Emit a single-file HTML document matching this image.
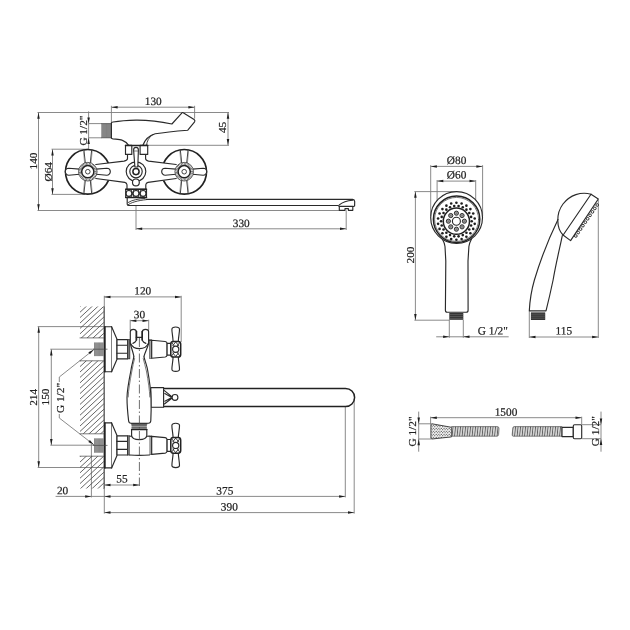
<!DOCTYPE html>
<html><head><meta charset="utf-8"><title>Drawing</title>
<style>
html,body{margin:0;padding:0;background:#fff;}
svg{display:block;filter:grayscale(1);}
.d{stroke:#7d7d7d;stroke-width:0.9;fill:none;}
.o{stroke:#2a2a2a;stroke-width:1.15;fill:none;stroke-linecap:round;stroke-linejoin:round;}
.ow{stroke:#2a2a2a;stroke-width:1.15;fill:#fff;stroke-linecap:round;stroke-linejoin:round;}
.k{stroke:#222;stroke-width:1.5;fill:none;stroke-linecap:round;stroke-linejoin:round;}
.kw{stroke:#222;stroke-width:1.5;fill:#fff;stroke-linejoin:round;}
.t{stroke:#444;stroke-width:0.7;fill:none;stroke-linecap:round;}
.m{stroke:#2e2e2e;stroke-width:0.9;fill:none;stroke-linecap:round;}
.tw{stroke:#444;stroke-width:0.7;fill:#fff;}
.w{fill:#fff;stroke:none;}
.g{fill:#8a8a8a;stroke:none;}
.a{fill:#1e1e1e;stroke:none;}
.h{stroke:#555;stroke-width:0.8;fill:none;}
.tx{font-family:"Liberation Serif",serif;font-size:11.3px;fill:#222;stroke:#222;stroke-width:0.22;}
</style></head><body>
<svg width="630" height="630" viewBox="0 0 630 630">
<rect x="0" y="0" width="630" height="630" fill="#fff"/>
<g id="top">
<line class="d" x1="37.50" y1="112.50" x2="229.00" y2="112.50"/>
<line class="d" x1="37.50" y1="210.50" x2="339.00" y2="210.50"/>
<line class="d" x1="38.50" y1="112.50" x2="38.50" y2="210.50"/>
<polygon class="a" points="38.50,112.50 37.25,118.70 39.75,118.70"/>
<polygon class="a" points="38.50,210.50 37.25,204.30 39.75,204.30"/>
<text class="tx" text-anchor="middle" transform="translate(36.70,161.00) rotate(-90)">140</text>
<line class="d" x1="88.60" y1="111.40" x2="88.60" y2="149.20"/>
<polygon class="a" points="88.60,123.60 87.35,117.40 89.85,117.40"/>
<polygon class="a" points="88.60,137.80 87.35,144.00 89.85,144.00"/>
<line class="d" x1="88.60" y1="123.60" x2="101.40" y2="123.60"/>
<line class="d" x1="88.60" y1="137.80" x2="101.40" y2="137.80"/>
<text class="tx" text-anchor="middle" transform="translate(87.30,130.60) rotate(-90)">G 1/2"</text>
<line class="d" x1="52.50" y1="149.20" x2="52.50" y2="194.40"/>
<polygon class="a" points="52.50,149.20 51.25,155.40 53.75,155.40"/>
<polygon class="a" points="52.50,194.40 51.25,188.20 53.75,188.20"/>
<line class="d" x1="51.50" y1="149.20" x2="88.00" y2="149.20"/>
<line class="d" x1="51.50" y1="194.40" x2="85.00" y2="194.40"/>
<text class="tx" text-anchor="middle" transform="translate(51.50,171.70) rotate(-90)">Ø64</text>
<line class="d" x1="111.40" y1="107.20" x2="194.60" y2="107.20"/>
<polygon class="a" points="111.40,107.20 117.60,105.95 117.60,108.45"/>
<polygon class="a" points="194.60,107.20 188.40,105.95 188.40,108.45"/>
<line class="d" x1="111.40" y1="105.80" x2="111.40" y2="122.40"/>
<line class="d" x1="194.60" y1="105.80" x2="194.60" y2="118.60"/>
<text class="tx" text-anchor="middle" transform="translate(153.20,105.00) rotate(0.03)">130</text>
<line class="d" x1="228.00" y1="112.50" x2="228.00" y2="145.30"/>
<polygon class="a" points="228.00,112.50 226.75,118.70 229.25,118.70"/>
<polygon class="a" points="228.00,145.30 226.75,139.10 229.25,139.10"/>
<line class="d" x1="147.70" y1="145.30" x2="229.00" y2="145.30"/>
<text class="tx" text-anchor="middle" transform="translate(226.00,127.40) rotate(-90)">45</text>
<line class="d" x1="136.00" y1="228.80" x2="346.20" y2="228.80"/>
<polygon class="a" points="136.00,228.80 142.20,227.55 142.20,230.05"/>
<polygon class="a" points="346.20,228.80 340.00,227.55 340.00,230.05"/>
<line class="d" x1="136.00" y1="205.50" x2="136.00" y2="230.00"/>
<line class="d" x1="346.20" y1="210.30" x2="346.20" y2="230.00"/>
<text class="tx" text-anchor="middle" transform="translate(241.20,226.90) rotate(0.03)">330</text>
<circle class="" cx="87.80" cy="171.80" r="22.30"  style="fill:none;stroke:#222;stroke-width:1.7"/>
<circle class="" cx="184.20" cy="171.80" r="22.30"  style="fill:none;stroke:#222;stroke-width:1.7"/>
<path class="w" d="M92,165 L124,161.1 Q127.4,160.6 127.5,158.5 L127.5,154.4 L145.6,154.4 L145.6,158.5 Q145.7,160.6 148.6,161.1 L180,165 L180,178.4 L148,182.4 Q146,182.8 145.8,184.8 L145.8,189.2 L127,189.2 L127,184.8 Q126.8,182.8 124.8,182.4 L92,178" />
<path class="o" d="M95.8,164.5 L124,161.1 Q127.4,160.6 127.5,158.5 L127.5,154.4" />
<path class="o" d="M176.2,164.5 L148.6,161.1 Q145.7,160.6 145.6,158.5 L145.6,154.4" />
<path class="o" d="M95.8,178.5 L124.8,182.4 Q126.8,182.8 127,184.8 L127,189.2" />
<path class="o" d="M176.2,178.5 L148,182.4 Q146,182.8 145.8,184.8 L145.8,189.2" />
<rect class="" x="101.40" y="123.60" width="10.00" height="14.20"  style="fill:#9c9c9c"/>
<line x1="101.90" y1="123.6" x2="101.90" y2="137.8" style="stroke:#6a6a6a;stroke-width:0.55"/>
<line x1="103.05" y1="123.6" x2="103.05" y2="137.8" style="stroke:#6a6a6a;stroke-width:0.55"/>
<line x1="104.20" y1="123.6" x2="104.20" y2="137.8" style="stroke:#6a6a6a;stroke-width:0.55"/>
<line x1="105.35" y1="123.6" x2="105.35" y2="137.8" style="stroke:#6a6a6a;stroke-width:0.55"/>
<line x1="106.50" y1="123.6" x2="106.50" y2="137.8" style="stroke:#6a6a6a;stroke-width:0.55"/>
<line x1="107.65" y1="123.6" x2="107.65" y2="137.8" style="stroke:#6a6a6a;stroke-width:0.55"/>
<line x1="108.80" y1="123.6" x2="108.80" y2="137.8" style="stroke:#6a6a6a;stroke-width:0.55"/>
<line x1="109.95" y1="123.6" x2="109.95" y2="137.8" style="stroke:#6a6a6a;stroke-width:0.55"/>
<line x1="111.10" y1="123.6" x2="111.10" y2="137.8" style="stroke:#6a6a6a;stroke-width:0.55"/>
<line class="t" x1="101.40" y1="123.60" x2="111.40" y2="123.60"/>
<line class="t" x1="101.40" y1="137.80" x2="111.40" y2="137.80"/>
<path class="o" d="M111.4,138 L111.4,122.8 Q111.6,122.3 113,122 C119,121 127,120.3 136,120.1 C148,120 160,121.4 171.9,124 L182.2,112.7 Q182.6,112.3 183.2,112.7 L194.1,119.5 Q195.4,120.6 194.6,121.9 L187.8,130.2 C178,131 165,132.2 155.2,133.8 C149,135.6 144.8,140 142.9,145.3" />
<path class="o" d="M111.4,138 Q111.8,138.7 113,138.9 C117,139.3 120.3,139.4 122,140.1 C124.6,141.1 127,143 128.6,145.3" />
<path class="m" d="M152.6,134.7 C148.8,137.2 147,141 146.5,145.3" />
<rect class="ow" x="125.50" y="145.40" width="6.30" height="9.00" />
<rect class="ow" x="140.10" y="145.40" width="7.60" height="9.00" />
<line class="k" x1="125.50" y1="145.40" x2="147.70" y2="145.40"/>
<circle class="o" cx="136.00" cy="171.60" r="9.80" />
<circle class="o" cx="136.00" cy="171.60" r="6.20" />
<circle class="k" cx="136.00" cy="171.60" r="3.10" />
<circle class="ow" cx="135.90" cy="182.40" r="3.40" />
<path class="ow" d="M133.6,150 A2.4,2.6 0 0 1 138.4,150 L137.8,167 L134.9,167 Z" />
<line class="t" x1="133.60" y1="151.00" x2="138.40" y2="151.00"/>
<rect class="ow" x="125.70" y="189.20" width="20.80" height="8.30" />
<line class="k" x1="125.70" y1="189.20" x2="146.50" y2="189.20"/>
<line class="k" x1="125.70" y1="197.50" x2="146.50" y2="197.50"/>
<circle class="o" cx="128.90" cy="193.40" r="2.90" />
<circle class="o" cx="136.00" cy="193.40" r="2.90" />
<circle class="o" cx="143.10" cy="193.40" r="2.90" />
<line class="m" x1="131.20" y1="190.00" x2="133.80" y2="196.80"/>
<line class="m" x1="133.80" y1="190.00" x2="131.20" y2="196.80"/>
<line class="m" x1="138.30" y1="190.00" x2="140.90" y2="196.80"/>
<line class="m" x1="140.90" y1="190.00" x2="138.30" y2="196.80"/>
<path class="o" d="M127.2,197.5 L127.2,204.3 Q127.3,205.5 128.6,205.5 L338,205.5 L339.3,206.4" />
<path class="o" d="M146.5,199.4 L352.6,199.4 Q354.6,199.5 354.7,201.6 L354.6,205.9 L352.8,206.8 L352.8,210.3 L348.4,210.3 L348.4,208.6 L345,208.6 L345,210.3 L339.3,210.3 L339.3,206.4 L352.8,206.4" />
<path class="m" d="M127.9,204.9 C131,202.6 137,200.6 146.5,199.6" />
<path class="m" d="M128.4,202.4 C132,200.0 138,198.9 145,198.4" />
<path class="o" d="M339.3,204.9 C342,202.6 345.5,200.8 352.6,200.2" />
<line x1="85.30" y1="163.10" x2="83.90" y2="149.70" style="stroke:#3a3a3a;stroke-width:1.0"/>
<line x1="84.60" y1="163.10" x2="83.30" y2="150.50" style="stroke:#777;stroke-width:0.6"/>
<line x1="90.30" y1="163.10" x2="91.70" y2="149.70" style="stroke:#3a3a3a;stroke-width:1.0"/>
<line x1="91.00" y1="163.10" x2="92.30" y2="150.50" style="stroke:#777;stroke-width:0.6"/>
<line x1="85.30" y1="180.30" x2="83.90" y2="193.70" style="stroke:#3a3a3a;stroke-width:1.0"/>
<line x1="84.60" y1="180.30" x2="83.30" y2="192.90" style="stroke:#777;stroke-width:0.6"/>
<line x1="90.30" y1="180.30" x2="91.70" y2="193.70" style="stroke:#3a3a3a;stroke-width:1.0"/>
<line x1="91.00" y1="180.30" x2="92.30" y2="192.90" style="stroke:#777;stroke-width:0.6"/>
<path class="ow" d="M79.60,169.10 L68.80,168.20 A3.5,3.5 0 0 0 68.80,175.20 L79.60,174.30" />
<path class="ow" d="M96.00,169.10 L106.80,168.20 A3.5,3.5 0 0 1 106.80,175.20 L96.00,174.30" />
<circle class="" cx="87.80" cy="171.70" r="9.30"  style="fill:#fff;stroke:#333;stroke-width:0.8"/>
<circle class="" cx="87.80" cy="171.70" r="7.80"  style="fill:none;stroke:#555;stroke-width:2.2;stroke-dasharray:0.7 0.75"/>
<circle class="kw" cx="87.80" cy="171.70" r="6.10" />
<circle class="" cx="87.80" cy="171.70" r="2.30"  style="fill:none;stroke:#333;stroke-width:0.9"/>
<line x1="181.70" y1="163.10" x2="180.30" y2="149.70" style="stroke:#3a3a3a;stroke-width:1.0"/>
<line x1="181.00" y1="163.10" x2="179.70" y2="150.50" style="stroke:#777;stroke-width:0.6"/>
<line x1="186.70" y1="163.10" x2="188.10" y2="149.70" style="stroke:#3a3a3a;stroke-width:1.0"/>
<line x1="187.40" y1="163.10" x2="188.70" y2="150.50" style="stroke:#777;stroke-width:0.6"/>
<line x1="181.70" y1="180.30" x2="180.30" y2="193.70" style="stroke:#3a3a3a;stroke-width:1.0"/>
<line x1="181.00" y1="180.30" x2="179.70" y2="192.90" style="stroke:#777;stroke-width:0.6"/>
<line x1="186.70" y1="180.30" x2="188.10" y2="193.70" style="stroke:#3a3a3a;stroke-width:1.0"/>
<line x1="187.40" y1="180.30" x2="188.70" y2="192.90" style="stroke:#777;stroke-width:0.6"/>
<path class="ow" d="M176.00,169.10 L165.20,168.20 A3.5,3.5 0 0 0 165.20,175.20 L176.00,174.30" />
<path class="ow" d="M192.40,169.10 L203.20,168.20 A3.5,3.5 0 0 1 203.20,175.20 L192.40,174.30" />
<circle class="" cx="184.20" cy="171.70" r="9.30"  style="fill:#fff;stroke:#333;stroke-width:0.8"/>
<circle class="" cx="184.20" cy="171.70" r="7.80"  style="fill:none;stroke:#555;stroke-width:2.2;stroke-dasharray:0.7 0.75"/>
<circle class="kw" cx="184.20" cy="171.70" r="6.10" />
<circle class="" cx="184.20" cy="171.70" r="2.30"  style="fill:none;stroke:#333;stroke-width:0.9"/>
</g>
<g id="shower">
<line class="d" x1="430.70" y1="166.40" x2="482.60" y2="166.40"/>
<polygon class="a" points="430.70,166.40 436.90,165.15 436.90,167.65"/>
<polygon class="a" points="482.60,166.40 476.40,165.15 476.40,167.65"/>
<line class="d" x1="430.70" y1="165.20" x2="430.70" y2="216.00"/>
<line class="d" x1="482.60" y1="165.20" x2="482.60" y2="216.00"/>
<text class="tx" text-anchor="middle" transform="translate(456.60,164.00) rotate(0.03)">Ø80</text>
<line class="d" x1="437.10" y1="181.10" x2="475.70" y2="181.10"/>
<polygon class="a" points="437.10,181.10 443.30,179.85 443.30,182.35"/>
<polygon class="a" points="475.70,181.10 469.50,179.85 469.50,182.35"/>
<line class="d" x1="437.10" y1="180.00" x2="437.10" y2="206.00"/>
<line class="d" x1="475.70" y1="180.00" x2="475.70" y2="206.00"/>
<text class="tx" text-anchor="middle" transform="translate(456.60,178.60) rotate(0.03)">Ø60</text>
<line class="d" x1="415.40" y1="191.60" x2="415.40" y2="320.20"/>
<polygon class="a" points="415.40,191.60 414.15,197.80 416.65,197.80"/>
<polygon class="a" points="415.40,320.20 414.15,314.00 416.65,314.00"/>
<line class="d" x1="414.40" y1="191.60" x2="457.00" y2="191.60"/>
<line class="d" x1="414.40" y1="320.20" x2="449.30" y2="320.20"/>
<text class="tx" text-anchor="middle" transform="translate(413.80,255.00) rotate(-90)">200</text>
<line class="d" x1="436.20" y1="336.80" x2="508.70" y2="336.80"/>
<polygon class="a" points="449.30,336.80 443.10,335.55 443.10,338.05"/>
<polygon class="a" points="463.30,336.80 469.50,335.55 469.50,338.05"/>
<line class="d" x1="449.30" y1="319.80" x2="449.30" y2="337.80"/>
<line class="d" x1="463.30" y1="319.80" x2="463.30" y2="337.80"/>
<text class="tx" text-anchor="middle" transform="translate(492.80,334.50) rotate(0.03)">G 1/2"</text>
<path class="o" d="M442.2,238.7 C443.5,241 444.6,243.5 445,246.5 L445.8,261 L445.4,310.2 Q445.4,312.2 447.2,312.2 L466.2,312.2 Q468.1,312.2 468.1,310.2 L468,261 L468.9,246.5 C469.3,243.5 470.4,241 471.6,238.7" />
<rect class="" x="449.30" y="313.00" width="14.00" height="6.80"  style="fill:#333"/>
<line style="stroke:#777;stroke-width:0.5" x1="449.30" y1="314.60" x2="463.30" y2="314.60"/>
<line style="stroke:#777;stroke-width:0.5" x1="449.30" y1="316.50" x2="463.30" y2="316.50"/>
<line style="stroke:#777;stroke-width:0.5" x1="449.30" y1="318.40" x2="463.30" y2="318.40"/>
<circle class="ow" cx="456.60" cy="217.50" r="25.90" />
<circle class="k" cx="456.60" cy="219.30" r="23.20" />
<circle class="t" cx="456.60" cy="219.40" r="22.00" />
<circle class="k" cx="456.40" cy="221.20" r="13.10" />
<circle class="o" cx="456.40" cy="221.20" r="4.00" />
<circle class="" cx="464.40" cy="221.20" r="2.10"  style="fill:#9a9a9a;stroke:#333;stroke-width:1.0"/>
<circle class="" cx="464.40" cy="221.20" r="0.80"  style="fill:#777;stroke:none"/>
<circle class="" cx="462.06" cy="226.86" r="2.10"  style="fill:#9a9a9a;stroke:#333;stroke-width:1.0"/>
<circle class="" cx="462.06" cy="226.86" r="0.80"  style="fill:#777;stroke:none"/>
<circle class="" cx="456.40" cy="229.20" r="2.10"  style="fill:#9a9a9a;stroke:#333;stroke-width:1.0"/>
<circle class="" cx="456.40" cy="229.20" r="0.80"  style="fill:#777;stroke:none"/>
<circle class="" cx="450.74" cy="226.86" r="2.10"  style="fill:#9a9a9a;stroke:#333;stroke-width:1.0"/>
<circle class="" cx="450.74" cy="226.86" r="0.80"  style="fill:#777;stroke:none"/>
<circle class="" cx="448.40" cy="221.20" r="2.10"  style="fill:#9a9a9a;stroke:#333;stroke-width:1.0"/>
<circle class="" cx="448.40" cy="221.20" r="0.80"  style="fill:#777;stroke:none"/>
<circle class="" cx="450.74" cy="215.54" r="2.10"  style="fill:#9a9a9a;stroke:#333;stroke-width:1.0"/>
<circle class="" cx="450.74" cy="215.54" r="0.80"  style="fill:#777;stroke:none"/>
<circle class="" cx="456.40" cy="213.20" r="2.10"  style="fill:#9a9a9a;stroke:#333;stroke-width:1.0"/>
<circle class="" cx="456.40" cy="213.20" r="0.80"  style="fill:#777;stroke:none"/>
<circle class="" cx="462.06" cy="215.54" r="2.10"  style="fill:#9a9a9a;stroke:#333;stroke-width:1.0"/>
<circle class="" cx="462.06" cy="215.54" r="0.80"  style="fill:#777;stroke:none"/>
<circle class="a" cx="456.40" cy="239.70" r="1.30" />
<circle class="a" cx="454.22" cy="236.34" r="1.30" />
<circle class="a" cx="451.19" cy="238.95" r="1.30" />
<circle class="a" cx="450.04" cy="235.12" r="1.30" />
<circle class="a" cx="446.40" cy="236.76" r="1.30" />
<circle class="a" cx="446.38" cy="232.76" r="1.30" />
<circle class="a" cx="442.42" cy="233.31" r="1.30" />
<circle class="a" cx="443.53" cy="229.47" r="1.30" />
<circle class="a" cx="439.57" cy="228.89" r="1.30" />
<circle class="a" cx="441.72" cy="225.51" r="1.30" />
<circle class="a" cx="438.09" cy="223.83" r="1.30" />
<circle class="a" cx="441.10" cy="221.20" r="1.30" />
<circle class="a" cx="438.09" cy="218.57" r="1.30" />
<circle class="a" cx="441.72" cy="216.89" r="1.30" />
<circle class="a" cx="439.57" cy="213.51" r="1.30" />
<circle class="a" cx="443.53" cy="212.93" r="1.30" />
<circle class="a" cx="442.42" cy="209.09" r="1.30" />
<circle class="a" cx="446.38" cy="209.64" r="1.30" />
<circle class="a" cx="446.40" cy="205.64" r="1.30" />
<circle class="a" cx="450.04" cy="207.28" r="1.30" />
<circle class="a" cx="451.19" cy="203.45" r="1.30" />
<circle class="a" cx="454.22" cy="206.06" r="1.30" />
<circle class="a" cx="456.40" cy="202.70" r="1.30" />
<circle class="a" cx="458.58" cy="206.06" r="1.30" />
<circle class="a" cx="461.61" cy="203.45" r="1.30" />
<circle class="a" cx="462.76" cy="207.28" r="1.30" />
<circle class="a" cx="466.40" cy="205.64" r="1.30" />
<circle class="a" cx="466.42" cy="209.64" r="1.30" />
<circle class="a" cx="470.38" cy="209.09" r="1.30" />
<circle class="a" cx="469.27" cy="212.93" r="1.30" />
<circle class="a" cx="473.23" cy="213.51" r="1.30" />
<circle class="a" cx="471.08" cy="216.89" r="1.30" />
<circle class="a" cx="474.71" cy="218.57" r="1.30" />
<circle class="a" cx="471.70" cy="221.20" r="1.30" />
<circle class="a" cx="474.71" cy="223.83" r="1.30" />
<circle class="a" cx="471.08" cy="225.51" r="1.30" />
<circle class="a" cx="473.23" cy="228.89" r="1.30" />
<circle class="a" cx="469.27" cy="229.47" r="1.30" />
<circle class="a" cx="470.38" cy="233.31" r="1.30" />
<circle class="a" cx="466.42" cy="232.76" r="1.30" />
<circle class="a" cx="466.40" cy="236.76" r="1.30" />
<circle class="a" cx="462.76" cy="235.12" r="1.30" />
<circle class="a" cx="461.61" cy="238.95" r="1.30" />
<circle class="a" cx="458.58" cy="236.34" r="1.30" />
<line class="d" x1="529.30" y1="337.00" x2="598.30" y2="337.00"/>
<polygon class="a" points="529.30,337.00 535.50,335.75 535.50,338.25"/>
<polygon class="a" points="598.30,337.00 592.10,335.75 592.10,338.25"/>
<line class="d" x1="529.30" y1="311.00" x2="529.30" y2="338.00"/>
<line class="d" x1="598.30" y1="199.50" x2="598.30" y2="338.00"/>
<text class="tx" text-anchor="middle" transform="translate(563.80,334.60) rotate(0.03)">115</text>
<path class="o" d="M563,235 C556.3,228 555.8,213.5 563,204 C570,195 581,191.3 591,194.2 L598.3,199 L570.6,240.6 Z" />
<line class="o" x1="591.00" y1="194.20" x2="563.20" y2="235.00"/>
<circle class="" cx="597.20" cy="205.00" r="1.35"  style="fill:#fff;stroke:#2a2a2a;stroke-width:0.95"/>
<circle class="" cx="594.82" cy="208.44" r="1.35"  style="fill:#fff;stroke:#2a2a2a;stroke-width:0.95"/>
<circle class="" cx="592.44" cy="211.89" r="1.35"  style="fill:#fff;stroke:#2a2a2a;stroke-width:0.95"/>
<circle class="" cx="590.07" cy="215.33" r="1.35"  style="fill:#fff;stroke:#2a2a2a;stroke-width:0.95"/>
<circle class="" cx="587.69" cy="218.78" r="1.35"  style="fill:#fff;stroke:#2a2a2a;stroke-width:0.95"/>
<circle class="" cx="585.31" cy="222.22" r="1.35"  style="fill:#fff;stroke:#2a2a2a;stroke-width:0.95"/>
<circle class="" cx="582.93" cy="225.67" r="1.35"  style="fill:#fff;stroke:#2a2a2a;stroke-width:0.95"/>
<circle class="" cx="580.56" cy="229.11" r="1.35"  style="fill:#fff;stroke:#2a2a2a;stroke-width:0.95"/>
<circle class="" cx="578.18" cy="232.56" r="1.35"  style="fill:#fff;stroke:#2a2a2a;stroke-width:0.95"/>
<circle class="" cx="575.80" cy="236.00" r="1.35"  style="fill:#fff;stroke:#2a2a2a;stroke-width:0.95"/>
<path class="o" d="M558,219.5 C549,238 541,258 534.4,280 C531.5,290 529.8,301 529.3,310.8 L546,310.8 C548,303 551,290 553.1,280 C556,263 560,247 562.3,235.6" />
<rect class="" x="530.90" y="312.40" width="14.30" height="7.60"  style="fill:#333"/>
<line x1="530.9" y1="314.2" x2="545.2" y2="314.2" style="stroke:#777;stroke-width:0.5"/>
<line x1="530.9" y1="316.2" x2="545.2" y2="316.2" style="stroke:#777;stroke-width:0.5"/>
<line x1="530.9" y1="318.2" x2="545.2" y2="318.2" style="stroke:#777;stroke-width:0.5"/>
</g>
<defs><pattern id="knurl" width="2.6" height="3.0" patternUnits="userSpaceOnUse"><rect width="2.6" height="3" fill="#fff"/><circle cx="0.65" cy="0.75" r="0.62" fill="#111"/><circle cx="1.95" cy="2.25" r="0.62" fill="#111"/></pattern><pattern id="hose" width="2.5" height="10" patternUnits="userSpaceOnUse" patternTransform="skewX(-6)"><rect width="2.5" height="10" fill="#d2d2d2"/><rect x="0" width="0.75" height="10" fill="#505050"/></pattern></defs>
<g id="hose">
<line class="d" x1="418.70" y1="411.60" x2="418.70" y2="451.70"/>
<polygon class="a" points="418.70,423.80 417.45,417.60 419.95,417.60"/>
<polygon class="a" points="418.70,439.00 417.45,445.20 419.95,445.20"/>
<line class="d" x1="418.70" y1="423.80" x2="431.10" y2="423.80"/>
<line class="d" x1="418.70" y1="439.00" x2="431.10" y2="439.00"/>
<text class="tx" text-anchor="middle" transform="translate(416.00,431.50) rotate(-90)">G 1/2"</text>
<line class="d" x1="430.60" y1="417.70" x2="581.70" y2="417.70"/>
<polygon class="a" points="430.60,417.70 436.80,416.45 436.80,418.95"/>
<polygon class="a" points="581.70,417.70 575.50,416.45 575.50,418.95"/>
<line class="d" x1="430.60" y1="416.70" x2="430.60" y2="424.00"/>
<line class="d" x1="581.70" y1="416.70" x2="581.70" y2="424.70"/>
<text class="tx" text-anchor="middle" transform="translate(506.00,415.70) rotate(0.03)">1500</text>
<path class="" d="M432,423.8 L451.5,427.3 L451.5,436.9 L432,439 Q430.9,439 430.9,438 L430.9,424.8 Q430.9,423.8 432,423.8 Z"  style="fill:url(#knurl);stroke:#333;stroke-width:0.9"/>
<path class="" d="M451.5,426.6 L497.5,426.6 Q499,426.8 499,428.6 L498.6,434.6 Q498.4,436.2 497,436.2 L451.5,436.2 Z"  style="fill:url(#hose);stroke:#555;stroke-width:0.7"/>
<path class="" d="M514,426.6 L562,426.6 L562,436.2 L513,436.2 Q512,436 512.2,434.6 L512.8,428 Q513,426.8 514,426.6 Z"  style="fill:url(#hose);stroke:#555;stroke-width:0.7"/>
<rect class="ow" x="562.00" y="427.30" width="11.30" height="9.30" />
<rect class="ow" x="573.3" y="424.7" width="8.4" height="14" rx="1.2"/>
<line class="d" x1="601.00" y1="411.60" x2="601.00" y2="451.70"/>
<polygon class="a" points="601.00,424.70 599.75,418.50 602.25,418.50"/>
<polygon class="a" points="601.00,438.70 599.75,444.90 602.25,444.90"/>
<line class="d" x1="581.70" y1="424.70" x2="601.00" y2="424.70"/>
<line class="d" x1="581.70" y1="438.70" x2="601.00" y2="438.70"/>
<text class="tx" text-anchor="middle" transform="translate(599.00,431.20) rotate(-90)">G 1/2"</text>
</g>
<defs><clipPath id="w1"><rect x="80" y="306.4" width="24.3" height="31.5"/></clipPath><clipPath id="w2"><rect x="80" y="360.8" width="24.3" height="73"/></clipPath><clipPath id="w3"><rect x="80" y="456.2" width="24.3" height="32.3"/></clipPath></defs>
<g id="bottom">
<line class="d" x1="104.30" y1="295.80" x2="104.30" y2="513.60"/>
<line class="d" x1="104.30" y1="296.90" x2="181.20" y2="296.90"/>
<polygon class="a" points="104.30,296.90 110.50,295.65 110.50,298.15"/>
<polygon class="a" points="181.20,296.90 175.00,295.65 175.00,298.15"/>
<line class="d" x1="181.20" y1="295.80" x2="181.20" y2="342.00"/>
<text class="tx" text-anchor="middle" transform="translate(142.70,294.50) rotate(0.03)">120</text>
<line class="d" x1="130.20" y1="320.70" x2="148.70" y2="320.70"/>
<polygon class="a" points="130.20,320.70 136.40,319.45 136.40,321.95"/>
<polygon class="a" points="148.70,320.70 142.50,319.45 142.50,321.95"/>
<line class="d" x1="130.20" y1="319.70" x2="130.20" y2="330.00"/>
<line class="d" x1="148.70" y1="319.70" x2="148.70" y2="330.00"/>
<text class="tx" text-anchor="middle" transform="translate(139.50,318.30) rotate(0.03)">30</text>
<line class="d" x1="38.70" y1="326.60" x2="38.70" y2="467.50"/>
<polygon class="a" points="38.70,326.60 37.45,332.80 39.95,332.80"/>
<polygon class="a" points="38.70,467.50 37.45,461.30 39.95,461.30"/>
<line class="d" x1="37.70" y1="326.60" x2="104.30" y2="326.60"/>
<line class="d" x1="37.70" y1="467.50" x2="104.30" y2="467.50"/>
<text class="tx" text-anchor="middle" transform="translate(36.80,397.40) rotate(-90)">214</text>
<line class="d" x1="51.30" y1="349.20" x2="51.30" y2="445.20"/>
<polygon class="a" points="51.30,349.20 50.05,355.40 52.55,355.40"/>
<polygon class="a" points="51.30,445.20 50.05,439.00 52.55,439.00"/>
<line class="d" x1="50.30" y1="349.20" x2="107.00" y2="349.20"/>
<line class="d" x1="50.30" y1="445.20" x2="107.00" y2="445.20"/>
<text class="tx" text-anchor="middle" transform="translate(49.40,397.00) rotate(-90)">150</text>
<text class="tx" text-anchor="middle" transform="translate(64.00,398.00) rotate(-90)">G 1/2"</text>
<path class="d" d="M93.6,349.8 L59.3,377 L59.3,382 M59.3,414 L59.3,418 L93.6,444.6" />
<polygon class="a" points="94.00,349.50 89.92,354.33 88.37,352.37"/>
<polygon class="a" points="94.00,444.90 88.33,442.09 89.87,440.11"/>
<line class="d" x1="55.60" y1="496.40" x2="345.30" y2="496.40"/>
<polygon class="a" points="91.40,496.40 85.20,495.15 85.20,497.65"/>
<polygon class="a" points="104.30,496.40 110.50,495.15 110.50,497.65"/>
<polygon class="a" points="345.30,496.40 339.10,495.15 339.10,497.65"/>
<line class="d" x1="91.40" y1="443.00" x2="91.40" y2="497.40"/>
<line class="d" x1="345.30" y1="406.60" x2="345.30" y2="497.40"/>
<text class="tx" text-anchor="middle" transform="translate(62.60,494.30) rotate(0.03)">20</text>
<text class="tx" text-anchor="middle" transform="translate(224.80,494.60) rotate(0.03)">375</text>
<line class="d" x1="104.30" y1="512.60" x2="354.20" y2="512.60"/>
<polygon class="a" points="104.30,512.60 110.50,511.35 110.50,513.85"/>
<polygon class="a" points="354.20,512.60 348.00,511.35 348.00,513.85"/>
<line class="d" x1="354.20" y1="399.00" x2="354.20" y2="513.60"/>
<text class="tx" text-anchor="middle" transform="translate(229.30,510.60) rotate(0.03)">390</text>
<line class="d" x1="104.30" y1="485.00" x2="139.40" y2="485.00"/>
<polygon class="a" points="104.30,485.00 110.50,483.75 110.50,486.25"/>
<polygon class="a" points="139.40,485.00 133.20,483.75 133.20,486.25"/>
<text class="tx" text-anchor="middle" transform="translate(121.90,482.60) rotate(0.03)">55</text>
<g clip-path="url(#w1)">
<line x1="79" y1="302.36" x2="105.3" y2="277.90" style="stroke:#4a4a4a;stroke-width:0.85"/>
<line x1="79" y1="307.76" x2="105.3" y2="283.30" style="stroke:#4a4a4a;stroke-width:0.85"/>
<line x1="79" y1="313.16" x2="105.3" y2="288.70" style="stroke:#4a4a4a;stroke-width:0.85"/>
<line x1="79" y1="318.56" x2="105.3" y2="294.10" style="stroke:#4a4a4a;stroke-width:0.85"/>
<line x1="79" y1="323.96" x2="105.3" y2="299.50" style="stroke:#4a4a4a;stroke-width:0.85"/>
<line x1="79" y1="329.36" x2="105.3" y2="304.90" style="stroke:#4a4a4a;stroke-width:0.85"/>
<line x1="79" y1="334.76" x2="105.3" y2="310.30" style="stroke:#4a4a4a;stroke-width:0.85"/>
<line x1="79" y1="340.16" x2="105.3" y2="315.70" style="stroke:#4a4a4a;stroke-width:0.85"/>
<line x1="79" y1="345.56" x2="105.3" y2="321.10" style="stroke:#4a4a4a;stroke-width:0.85"/>
<line x1="79" y1="350.96" x2="105.3" y2="326.50" style="stroke:#4a4a4a;stroke-width:0.85"/>
<line x1="79" y1="356.36" x2="105.3" y2="331.90" style="stroke:#4a4a4a;stroke-width:0.85"/>
<line x1="79" y1="361.76" x2="105.3" y2="337.30" style="stroke:#4a4a4a;stroke-width:0.85"/>
<line x1="79" y1="367.16" x2="105.3" y2="342.70" style="stroke:#4a4a4a;stroke-width:0.85"/>
<line x1="79" y1="372.56" x2="105.3" y2="348.10" style="stroke:#4a4a4a;stroke-width:0.85"/>
<line x1="79" y1="377.96" x2="105.3" y2="353.50" style="stroke:#4a4a4a;stroke-width:0.85"/>
<line x1="79" y1="383.36" x2="105.3" y2="358.90" style="stroke:#4a4a4a;stroke-width:0.85"/>
<line x1="79" y1="388.76" x2="105.3" y2="364.30" style="stroke:#4a4a4a;stroke-width:0.85"/>
</g>
<g clip-path="url(#w2)">
<line x1="79" y1="356.76" x2="105.3" y2="332.30" style="stroke:#4a4a4a;stroke-width:0.85"/>
<line x1="79" y1="362.16" x2="105.3" y2="337.70" style="stroke:#4a4a4a;stroke-width:0.85"/>
<line x1="79" y1="367.56" x2="105.3" y2="343.10" style="stroke:#4a4a4a;stroke-width:0.85"/>
<line x1="79" y1="372.96" x2="105.3" y2="348.50" style="stroke:#4a4a4a;stroke-width:0.85"/>
<line x1="79" y1="378.36" x2="105.3" y2="353.90" style="stroke:#4a4a4a;stroke-width:0.85"/>
<line x1="79" y1="383.76" x2="105.3" y2="359.30" style="stroke:#4a4a4a;stroke-width:0.85"/>
<line x1="79" y1="389.16" x2="105.3" y2="364.70" style="stroke:#4a4a4a;stroke-width:0.85"/>
<line x1="79" y1="394.56" x2="105.3" y2="370.10" style="stroke:#4a4a4a;stroke-width:0.85"/>
<line x1="79" y1="399.96" x2="105.3" y2="375.50" style="stroke:#4a4a4a;stroke-width:0.85"/>
<line x1="79" y1="405.36" x2="105.3" y2="380.90" style="stroke:#4a4a4a;stroke-width:0.85"/>
<line x1="79" y1="410.76" x2="105.3" y2="386.30" style="stroke:#4a4a4a;stroke-width:0.85"/>
<line x1="79" y1="416.16" x2="105.3" y2="391.70" style="stroke:#4a4a4a;stroke-width:0.85"/>
<line x1="79" y1="421.56" x2="105.3" y2="397.10" style="stroke:#4a4a4a;stroke-width:0.85"/>
<line x1="79" y1="426.96" x2="105.3" y2="402.50" style="stroke:#4a4a4a;stroke-width:0.85"/>
<line x1="79" y1="432.36" x2="105.3" y2="407.90" style="stroke:#4a4a4a;stroke-width:0.85"/>
<line x1="79" y1="437.76" x2="105.3" y2="413.30" style="stroke:#4a4a4a;stroke-width:0.85"/>
<line x1="79" y1="443.16" x2="105.3" y2="418.70" style="stroke:#4a4a4a;stroke-width:0.85"/>
<line x1="79" y1="448.56" x2="105.3" y2="424.10" style="stroke:#4a4a4a;stroke-width:0.85"/>
<line x1="79" y1="453.96" x2="105.3" y2="429.50" style="stroke:#4a4a4a;stroke-width:0.85"/>
<line x1="79" y1="459.36" x2="105.3" y2="434.90" style="stroke:#4a4a4a;stroke-width:0.85"/>
<line x1="79" y1="464.76" x2="105.3" y2="440.30" style="stroke:#4a4a4a;stroke-width:0.85"/>
<line x1="79" y1="470.16" x2="105.3" y2="445.70" style="stroke:#4a4a4a;stroke-width:0.85"/>
<line x1="79" y1="475.56" x2="105.3" y2="451.10" style="stroke:#4a4a4a;stroke-width:0.85"/>
<line x1="79" y1="480.96" x2="105.3" y2="456.50" style="stroke:#4a4a4a;stroke-width:0.85"/>
<line x1="79" y1="486.36" x2="105.3" y2="461.90" style="stroke:#4a4a4a;stroke-width:0.85"/>
</g>
<g clip-path="url(#w3)">
<line x1="79" y1="452.16" x2="105.3" y2="427.70" style="stroke:#4a4a4a;stroke-width:0.85"/>
<line x1="79" y1="457.56" x2="105.3" y2="433.10" style="stroke:#4a4a4a;stroke-width:0.85"/>
<line x1="79" y1="462.96" x2="105.3" y2="438.50" style="stroke:#4a4a4a;stroke-width:0.85"/>
<line x1="79" y1="468.36" x2="105.3" y2="443.90" style="stroke:#4a4a4a;stroke-width:0.85"/>
<line x1="79" y1="473.76" x2="105.3" y2="449.30" style="stroke:#4a4a4a;stroke-width:0.85"/>
<line x1="79" y1="479.16" x2="105.3" y2="454.70" style="stroke:#4a4a4a;stroke-width:0.85"/>
<line x1="79" y1="484.56" x2="105.3" y2="460.10" style="stroke:#4a4a4a;stroke-width:0.85"/>
<line x1="79" y1="489.96" x2="105.3" y2="465.50" style="stroke:#4a4a4a;stroke-width:0.85"/>
<line x1="79" y1="495.36" x2="105.3" y2="470.90" style="stroke:#4a4a4a;stroke-width:0.85"/>
<line x1="79" y1="500.76" x2="105.3" y2="476.30" style="stroke:#4a4a4a;stroke-width:0.85"/>
<line x1="79" y1="506.16" x2="105.3" y2="481.70" style="stroke:#4a4a4a;stroke-width:0.85"/>
<line x1="79" y1="511.56" x2="105.3" y2="487.10" style="stroke:#4a4a4a;stroke-width:0.85"/>
<line x1="79" y1="516.96" x2="105.3" y2="492.50" style="stroke:#4a4a4a;stroke-width:0.85"/>
<line x1="79" y1="522.36" x2="105.3" y2="497.90" style="stroke:#4a4a4a;stroke-width:0.85"/>
<line x1="79" y1="527.76" x2="105.3" y2="503.30" style="stroke:#4a4a4a;stroke-width:0.85"/>
<line x1="79" y1="533.16" x2="105.3" y2="508.70" style="stroke:#4a4a4a;stroke-width:0.85"/>
<line x1="79" y1="538.56" x2="105.3" y2="514.10" style="stroke:#4a4a4a;stroke-width:0.85"/>
</g>
<line class="t" x1="80.00" y1="337.90" x2="104.30" y2="337.90"/>
<line class="t" x1="80.00" y1="360.80" x2="104.30" y2="360.80"/>
<line class="t" x1="80.00" y1="433.80" x2="104.30" y2="433.80"/>
<line class="t" x1="80.00" y1="456.20" x2="104.30" y2="456.20"/>
<line x1="104.2" y1="306.4" x2="104.2" y2="488.5" style="stroke:#666;stroke-width:1.3"/>
<rect class="" x="94.00" y="342.50" width="10.30" height="13.60"  style="fill:#a8a8a8"/>
<line x1="94.60" y1="342.5" x2="94.60" y2="356.1" style="stroke:#6a6a6a;stroke-width:0.55"/>
<line x1="95.85" y1="342.5" x2="95.85" y2="356.1" style="stroke:#6a6a6a;stroke-width:0.55"/>
<line x1="97.10" y1="342.5" x2="97.10" y2="356.1" style="stroke:#6a6a6a;stroke-width:0.55"/>
<line x1="98.35" y1="342.5" x2="98.35" y2="356.1" style="stroke:#6a6a6a;stroke-width:0.55"/>
<line x1="99.60" y1="342.5" x2="99.60" y2="356.1" style="stroke:#6a6a6a;stroke-width:0.55"/>
<line x1="100.85" y1="342.5" x2="100.85" y2="356.1" style="stroke:#6a6a6a;stroke-width:0.55"/>
<line x1="102.10" y1="342.5" x2="102.10" y2="356.1" style="stroke:#6a6a6a;stroke-width:0.55"/>
<line x1="103.35" y1="342.5" x2="103.35" y2="356.1" style="stroke:#6a6a6a;stroke-width:0.55"/>
<rect class="" x="94.00" y="438.40" width="10.30" height="14.30"  style="fill:#a8a8a8"/>
<line x1="94.60" y1="438.4" x2="94.60" y2="452.7" style="stroke:#6a6a6a;stroke-width:0.55"/>
<line x1="95.85" y1="438.4" x2="95.85" y2="452.7" style="stroke:#6a6a6a;stroke-width:0.55"/>
<line x1="97.10" y1="438.4" x2="97.10" y2="452.7" style="stroke:#6a6a6a;stroke-width:0.55"/>
<line x1="98.35" y1="438.4" x2="98.35" y2="452.7" style="stroke:#6a6a6a;stroke-width:0.55"/>
<line x1="99.60" y1="438.4" x2="99.60" y2="452.7" style="stroke:#6a6a6a;stroke-width:0.55"/>
<line x1="100.85" y1="438.4" x2="100.85" y2="452.7" style="stroke:#6a6a6a;stroke-width:0.55"/>
<line x1="102.10" y1="438.4" x2="102.10" y2="452.7" style="stroke:#6a6a6a;stroke-width:0.55"/>
<line x1="103.35" y1="438.4" x2="103.35" y2="452.7" style="stroke:#6a6a6a;stroke-width:0.55"/>
<path class="k" d="M150.8,388.4 L345.5,388.4 A9.1,9.1 0 0 1 345.5,406.6 L150.8,406.6" />
<rect class="ow" x="150.80" y="387.60" width="12.80" height="19.60" />
<path class="o" d="M164.4,390.6 L171.8,396.6 M164.4,404 L171.8,398.2 M164.8,393.6 L171,396.9 M164.8,401.2 L171,397.9" />
<circle class="ow" cx="175.00" cy="397.40" r="2.90" />
<rect class="ow" x="104.60" y="422.90" width="7.00" height="45.00" />
<line class="k" x1="104.90" y1="422.90" x2="104.90" y2="467.90"/>
<line x1="93" y1="445.40" x2="107.5" y2="445.40" style="stroke:#444;stroke-width:0.7"/>
<path class="ow" d="M111.6,422.90 L117,435.40 L117,455.40 L111.6,467.90" />
<rect class="ow" x="117.00" y="435.80" width="10.60" height="19.20" />
<line class="o" x1="117.00" y1="441.40" x2="127.60" y2="441.40"/>
<line class="o" x1="117.00" y1="449.40" x2="127.60" y2="449.40"/>
<rect class="" x="127.60" y="435.80" width="2.20" height="19.20"  style="fill:#777;stroke:#333;stroke-width:0.8"/>
<rect class="" x="149.50" y="436.10" width="2.20" height="18.60"  style="fill:#a5a5a5;stroke:#444;stroke-width:0.6"/>
<path class="ow" d="M151.7,436.40 L165.2,437.65 Q166.9,437.90 167.1,439.50 L167.1,451.30 Q166.9,452.90 165.2,453.15 L151.7,454.40 Z" />
<line class="o" x1="148.40" y1="436.30" x2="151.70" y2="436.40"/>
<rect class="ow" x="167.10" y="439.50" width="3.70" height="11.80" />
<path class="ow" d="M173.10,437.90 C172.90,432.40 171.80,428.40 171.90,425.40 C172.10,422.50 179.30,422.50 179.50,425.40 C179.60,428.40 178.50,432.40 178.30,437.90" />
<path class="ow" d="M173.10,452.90 C172.90,458.40 171.80,462.40 171.90,465.40 C172.10,468.30 179.30,468.30 179.50,465.40 C179.60,462.40 178.50,458.40 178.30,452.90" />
<rect class="kw" x="170.8" y="437.60" width="9.9" height="15.6" rx="2.6"/>
<circle class="o" cx="175.70" cy="445.40" r="3.10" />
<line class="m" x1="171.60" y1="438.50" x2="174.20" y2="442.20"/>
<line class="m" x1="179.90" y1="438.50" x2="177.20" y2="442.20"/>
<line class="m" x1="172.80" y1="441.80" x2="175.70" y2="438.10"/>
<line class="m" x1="178.60" y1="441.80" x2="175.70" y2="438.10"/>
<line class="m" x1="171.60" y1="452.30" x2="174.20" y2="448.60"/>
<line class="m" x1="179.90" y1="452.30" x2="177.20" y2="448.60"/>
<line class="m" x1="172.80" y1="449.00" x2="175.70" y2="452.70"/>
<line class="m" x1="178.60" y1="449.00" x2="175.70" y2="452.70"/>
<path class="w" d="M129.8,436.2 L149.4,436.2 L149.4,455 L129.8,455 Z" />
<path class="o" d="M129.8,436.2 L131.6,436.2 M146.8,436.2 L149.4,436.2 M129.8,455 Q139,455.6 149.4,455" />
<path class="ow" d="M131.6,429.5 L131.6,435.6 Q132.2,439.6 139.2,439.6 Q146.2,439.6 146.8,435.6 L146.8,429.5" />
<rect class="" x="131.60" y="423.70" width="15.20" height="5.80"  style="fill:#a2a2a2;stroke:none"/>
<line class="k" x1="131.60" y1="423.70" x2="146.80" y2="423.70"/>
<line class="k" x1="131.60" y1="429.50" x2="146.80" y2="429.50"/>
<line class="h" x1="131.60" y1="425.60" x2="146.80" y2="425.60"/>
<line class="h" x1="131.60" y1="427.60" x2="146.80" y2="427.60"/>
<rect class="ow" x="104.60" y="326.70" width="7.00" height="45.00" />
<line class="k" x1="104.90" y1="326.70" x2="104.90" y2="371.70"/>
<line x1="93" y1="349.20" x2="107.5" y2="349.20" style="stroke:#444;stroke-width:0.7"/>
<path class="ow" d="M111.6,326.70 L117,339.20 L117,359.20 L111.6,371.70" />
<rect class="ow" x="117.00" y="339.60" width="10.60" height="19.20" />
<line class="o" x1="117.00" y1="345.20" x2="127.60" y2="345.20"/>
<line class="o" x1="117.00" y1="353.20" x2="127.60" y2="353.20"/>
<rect class="" x="127.60" y="339.60" width="2.20" height="19.20"  style="fill:#777;stroke:#333;stroke-width:0.8"/>
<rect class="" x="149.50" y="339.90" width="2.20" height="18.60"  style="fill:#a5a5a5;stroke:#444;stroke-width:0.6"/>
<path class="ow" d="M151.7,340.20 L165.2,341.45 Q166.9,341.70 167.1,343.30 L167.1,355.10 Q166.9,356.70 165.2,356.95 L151.7,358.20 Z" />
<line class="o" x1="148.40" y1="340.10" x2="151.70" y2="340.20"/>
<rect class="ow" x="167.10" y="343.30" width="3.70" height="11.80" />
<path class="ow" d="M173.10,341.70 C172.90,336.20 171.80,332.20 171.90,329.20 C172.10,326.30 179.30,326.30 179.50,329.20 C179.60,332.20 178.50,336.20 178.30,341.70" />
<path class="ow" d="M173.10,356.70 C172.90,362.20 171.80,366.20 171.90,369.20 C172.10,372.10 179.30,372.10 179.50,369.20 C179.60,366.20 178.50,362.20 178.30,356.70" />
<rect class="kw" x="170.8" y="341.40" width="9.9" height="15.6" rx="2.6"/>
<circle class="o" cx="175.70" cy="349.20" r="3.10" />
<line class="m" x1="171.60" y1="342.30" x2="174.20" y2="346.00"/>
<line class="m" x1="179.90" y1="342.30" x2="177.20" y2="346.00"/>
<line class="m" x1="172.80" y1="345.60" x2="175.70" y2="341.90"/>
<line class="m" x1="178.60" y1="345.60" x2="175.70" y2="341.90"/>
<line class="m" x1="171.60" y1="356.10" x2="174.20" y2="352.40"/>
<line class="m" x1="179.90" y1="356.10" x2="177.20" y2="352.40"/>
<line class="m" x1="172.80" y1="352.80" x2="175.70" y2="356.50"/>
<line class="m" x1="178.60" y1="352.80" x2="175.70" y2="356.50"/>
<path class="w" d="M133.9,356.7 C133,361 131.5,366 131,370 C129,380 127,390 127,397.8 C127,406 127.8,414 128.6,420.8 Q128.8,423.2 131,423.2 L148.4,423.2 Q150.6,423.2 150.8,420.8 C151.2,414 151.2,405 151,398.6 C150.8,390 149.4,380 147.6,370 C147,366 145,361 143.9,356.7 Z" />
<path class="o" d="M133.9,356.7 C133,361 131.5,366 131,370 C129,380 127,390 127,397.8 C127,406 127.8,414 128.6,420.8 Q128.8,423.2 131,423.2 L148.4,423.2 Q150.6,423.2 150.8,420.8 C151.2,414 151.2,405 151,398.6 C150.8,390 149.4,380 147.6,370 C147,366 145,361 143.9,356.7" />
<path class="t" d="M134.6,358.5 C133.8,362 132.4,367 131.9,371 C130,381 128.4,390 128.2,397" />
<path class="t" d="M143.2,358.5 C144,362 145.6,367 146.4,371 C148.2,381 149.6,390 149.8,397" />
<path class="w" d="M133.9,356.7 C133.4,353 131.4,348 130.3,343.6 L130.3,331.6 Q130.4,329.4 133.3,329.4 Q136.2,329.4 136.2,331.6 L136.2,337.3 L142.4,337.3 L142.4,331.6 Q142.5,329.4 145.5,329.4 Q148.6,329.4 148.6,331.6 L148.6,343.6 C147.5,348 144.6,353 143.9,356.7 Z" />
<path class="o" d="M133.9,356.7 C133.4,353 131.4,348 130.3,343.6 L130.3,331.6 Q130.4,329.4 133.3,329.4 Q136.2,329.4 136.2,331.6 L136.2,337.3 L142.4,337.3 L142.4,331.6 Q142.5,329.4 145.5,329.4 Q148.6,329.4 148.6,331.6 L148.6,343.6 C147.5,348 144.6,353 143.9,356.7" />
<line class="k" x1="136.50" y1="331.60" x2="136.50" y2="340.00"/>
<line class="k" x1="142.10" y1="331.60" x2="142.10" y2="340.00"/>
<path class="o" d="M130.6,343.4 C132,346.6 135.5,348.6 139.5,348.6 C143.5,348.6 147,346.6 148.3,343.4" />
<path class="o" d="M136.2,337.3 L136.2,340.6 Q135.2,342.6 132.9,343.4 M142.4,337.3 L142.4,340.6 Q143.4,342.6 145.9,343.4" />
<line x1="139.4" y1="338" x2="139.4" y2="486" style="stroke:#4a4a4a;stroke-width:0.8;stroke-dasharray:9 2.5 1.5 2.5"/>
</g>
</svg>
</body></html>
